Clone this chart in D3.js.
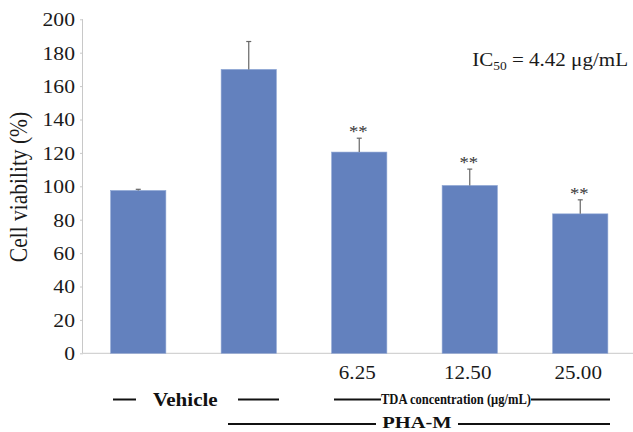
<!DOCTYPE html>
<html>
<head>
<meta charset="utf-8">
<script src="https://cdn.jsdelivr.net/npm/d3@7"></script>
<style>
  body { margin: 0; background: #fff; }
  svg { display: block; }
  svg text { font-family: "Liberation Serif", "DejaVu Serif", serif !important; }
</style>
</head>
<body>
<script>
// chart values
const groups = ['Vehicle', 'PHA-M', '6.25', '12.50', '25.00']
const viability = [97.5, 170, 120.5, 100.5, 83.5]
const errors = [0.7, 16.7, 8.3, 9.8, 8.4]
const marks = ['', '', '**', '**', '**']
const concLabels = ['', '', '6.25', '12.50', '25.00']
const yTicks = [0, 20, 40, 60, 80, 100, 120, 140, 160, 180, 200]

const width = 633
const height = 432
const sx = 1.17 // the source figure is a little stretched sideways
const ink = '#1a1a1a'

const svg = d3.select('body').append('svg')
  .attr('width', width)
  .attr('height', height)

// horizontal text, widened like the source
function label (x0, y0, str, size, opts = {}) {
  const g = svg.append('g').attr('transform', `translate(${x0},${y0}) scale(${sx},1)`)
  return g.append('text')
    .attr('text-anchor', opts.anchor || 'start')
    .attr('font-size', size)
    .attr('font-weight', opts.bold ? 'bold' : null)
    .attr('fill', opts.fill || ink)
    .text(str)
}

const x = d3.scaleBand()
  .domain(groups)
  .range([83, 635.5])
  .paddingInner(0.5)
  .paddingOuter(0.25)

const y = d3.scaleLinear()
  .domain([0, 200])
  .range([353.3, 19.3])

// y axis
const yAxis = svg.append('g')
  .attr('transform', 'translate(83,0)')
  .call(d3.axisLeft(y).tickValues(yTicks).tickSize(3).tickPadding(5))
yAxis.select('.domain').attr('stroke', '#c8c8c8').attr('d', `M-0.5,${y(200)}V${y(0)}`)
yAxis.selectAll('.tick line').attr('stroke', '#c8c8c8')
yAxis.selectAll('.tick text')
  .attr('font-size', 18.5)
  .attr('fill', ink)
  .attr('x', -8 / sx)
  .attr('dy', '0.34em')
  .attr('transform', `scale(${sx},1)`)

// x baseline
svg.append('line')
  .attr('x1', 83).attr('x2', width)
  .attr('y1', y(0)).attr('y2', y(0))
  .attr('stroke', '#c8c8c8')

// bars
svg.append('g').selectAll('rect')
  .data(groups)
  .join('rect')
  .attr('x', d => x(d))
  .attr('width', x.bandwidth())
  .attr('y', (d, i) => y(viability[i]))
  .attr('height', (d, i) => y(0) - y(viability[i]))
  .attr('fill', '#6381be')
  .attr('stroke', '#8ea6d4')
  .attr('stroke-width', 0.6)

// error bars (upper only), stars and dose labels
const eb = svg.append('g').attr('stroke', '#666').attr('stroke-width', 1.2)
groups.forEach((g, i) => {
  const cx = x(g) + x.bandwidth() / 2
  eb.append('line')
    .attr('x1', cx).attr('x2', cx)
    .attr('y1', y(viability[i])).attr('y2', y(viability[i] + errors[i]))
  eb.append('line')
    .attr('x1', cx - 2.5).attr('x2', cx + 2.5)
    .attr('y1', y(viability[i] + errors[i])).attr('y2', y(viability[i] + errors[i]))
  if (marks[i]) label(cx - 1, y(viability[i] + errors[i]) - 1, marks[i], 16, { anchor: 'middle', fill: '#333' })
  if (concLabels[i]) label(cx - 2, 379, concLabels[i], 18, { anchor: 'middle' })
})

// y title
svg.append('text')
  .attr('transform', `translate(27,187) scale(${sx},1) rotate(-90)`)
  .attr('text-anchor', 'middle')
  .attr('font-size', 21.5)
  .attr('fill', ink)
  .text('Cell viability (%)')

// IC50 note
const ic = label(628, 66, '', 18, { anchor: 'end' })
ic.append('tspan').text('IC')
ic.append('tspan').attr('font-size', 11.5).attr('dy', 4).text('50')
ic.append('tspan').attr('dy', -4).text(' = 4.42 μg/mL')

// group brackets below the axis
const brk = svg.append('g').attr('stroke', '#111').attr('stroke-width', 2)
const line = (x1, x2, yy) => brk.append('line').attr('x1', x1).attr('x2', x2).attr('y1', yy).attr('y2', yy)

line(113, 136, 399.5)
line(238, 279, 399.5)
label(153, 405.5, 'Vehicle', 18, { bold: true, fill: '#111' })

line(334, 381, 399.5)
line(531, 610, 399.5)
svg.append('text')
  .attr('x', 456).attr('y', 404)
  .attr('text-anchor', 'middle')
  .attr('font-size', 14).attr('font-weight', 'bold').attr('fill', '#111')
  .attr('textLength', 150).attr('lengthAdjust', 'spacingAndGlyphs')
  .text('TDA concentration (μg/mL)')

line(228, 376, 424)
line(458, 610, 424)
label(417, 427.5, 'PHA-M', 17.5, { anchor: 'middle', bold: true, fill: '#111' })
</script>
</body>
</html>
